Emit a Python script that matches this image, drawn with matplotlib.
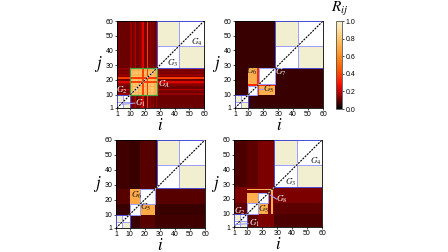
import numpy as np
import matplotlib
matplotlib.use("Agg")
import matplotlib.pyplot as plt
from matplotlib.colors import LinearSegmentedColormap

plt.rcParams['font.family'] = ['Liberation Sans', 'DejaVu Sans']
plt.rcParams['mathtext.fontset'] = 'stix'

N = 60
TICKS = [1, 10, 20, 30, 40, 50, 60]
CB_TICKS = [0.0, 0.2, 0.4, 0.6, 0.8, 1.0]

# group ranges (coordinate boundaries on the 0..60 index axis)
SMALL = [(0, 5), (5, 10)]
UPPER = [(28, 43), (43, 60)]
CREAM = 1.0

# panel 1
P1_BASE = 0.11
P1_GA = (10, 28)
P1_NODE = [0.80, 0.74, 0.82, 0.77, 0.84, 0.72, 0.80, 0.78, 0.40,
           0.82, 0.76, 0.38, 0.80, 0.74, 0.82, 0.78, 0.72, 0.76]
P1_STRIPE = [0.16, 0.11, 0.13, 0.19, 0.11, 0.12, 0.14, 0.17, 0.24,
             0.12, 0.11, 0.38, 0.13, 0.16, 0.12, 0.14, 0.11, 0.15]

# panel 2
P2_BASE = 0.06
P2_A, P2_HUB, P2_B = (10, 16), (16, 17), (17, 28)
P2_AB, P2_HUBV = 0.72, 0.35

# panel 3
P3_BASE = 0.07
P3_A, P3_B, P3_HUB = (10, 17), (17, 27), (27, 28)
P3_AB, P3_HUBV = 0.70, 0.70
P3_TINT_A, P3_TINT_B = 0.06, 0.09

# panel 4
P4_BASE = 0.08
P4_A, P4_B, P4_HUB = (10, 17), (17, 24), (26, 27)
P4_AB, P4_HUBV, P4_HUBRANGE = 0.72, 0.72, (10, 26)
P4_TINT_A, P4_TINT_B = 0.10, 0.13

cmap = LinearSegmentedColormap.from_list("rij", [
    (0.00, (0.0, 0.0, 0.0)),
    (0.10, (0.38, 0.0, 0.0)),
    (0.20, (0.76, 0.0, 0.0)),
    (0.30, (1.0, 0.08, 0.0)),
    (0.45, (1.0, 0.35, 0.0)),
    (0.60, (1.0, 0.55, 0.12)),
    (0.75, (1.0, 0.72, 0.35)),
    (0.90, (1.0, 0.88, 0.62)),
    (1.00, (0.95, 0.94, 0.82)),
])
cmap.set_bad('white')


def setblk(M, r1, r2, v):
    M[r1[0]:r1[1], r2[0]:r2[1]] = v
    M[r2[0]:r2[1], r1[0]:r1[1]] = v


def common(M):
    for grp in (SMALL, UPPER):
        setblk(M, grp[0], grp[1], CREAM)
        for g in grp:
            M[g[0]:g[1], g[0]:g[1]] = np.nan


def panel1():
    M = np.full((N, N), P1_BASE)
    a0, a1 = P1_GA
    node = np.array(P1_NODE)
    st = np.array(P1_STRIPE)
    M[a0:a1, :] = st[:, None]
    M[:, a0:a1] = np.maximum(M[:, a0:a1], st[None, :])
    M[a0:a1, a0:a1] = np.minimum(node[:, None], node[None, :])
    common(M)
    return M


def panel2():
    M = np.full((N, N), P2_BASE)
    common(M)
    setblk(M, P2_A, P2_B, P2_AB)
    setblk(M, P2_HUB, (P2_A[0], P2_B[1]), P2_HUBV)
    for g in (P2_A, P2_B):
        M[g[0]:g[1], g[0]:g[1]] = np.nan
    return M


def panel3():
    M = np.full((N, N), P3_BASE)
    M[:, P3_A[0]:P3_A[1]] = P3_TINT_A
    M[P3_A[0]:P3_A[1], :] = P3_TINT_A
    M[:, P3_B[0]:P3_B[1]] = P3_TINT_B
    M[P3_B[0]:P3_B[1], :] = P3_TINT_B
    common(M)
    setblk(M, P3_A, P3_B, P3_AB)
    M[P3_HUB[0]:P3_HUB[1], P3_HUB[0]:P3_HUB[1]] = P3_HUBV
    for g in (P3_A, P3_B):
        M[g[0]:g[1], g[0]:g[1]] = np.nan
    return M


def panel4():
    M = np.full((N, N), P4_BASE)
    M[:, P4_A[0]:P4_A[1]] = P4_TINT_A
    M[P4_A[0]:P4_A[1], :] = P4_TINT_A
    M[:, P4_B[0]:28] = P4_TINT_B
    M[P4_B[0]:28, :] = P4_TINT_B
    common(M)
    setblk(M, P4_A, P4_B, P4_AB)
    setblk(M, P4_HUB, P4_HUBRANGE, P4_HUBV)
    M[P4_HUB[0]:P4_HUB[1], P4_HUB[0]:P4_HUB[1]] = P4_HUBV
    for g in (P4_A, P4_B):
        M[g[0]:g[1], g[0]:g[1]] = np.nan
    return M


INNER_BLUE = '#9c9cff'
OUTER_BLUE = '#4c4cd8'


def box(ax, r, color, lw=0.7):
    a, b = max(r[0], 1), r[1]
    ax.plot([a, b, b, a, a], [a, a, b, b, a], color=color, lw=lw,
            solid_joinstyle='miter', zorder=4)


def draw(ax, M, mid_groups, labels, leaders, green=None):
    ax.imshow(M, cmap=cmap, vmin=0, vmax=1, origin='lower',
              extent=[0, N, 0, N], interpolation='nearest', aspect='auto')
    for g in SMALL + UPPER + mid_groups:
        box(ax, g, INNER_BLUE)
    box(ax, (1, 10), OUTER_BLUE)
    box(ax, (28, 60), OUTER_BLUE)
    if green:
        box(ax, green, '#3fa43f', lw=0.9)
    ax.plot([1, 60], [1, 60], color='white', lw=0.8, zorder=5)
    ax.plot([1, 60], [1, 60], color='black', lw=0.8, dashes=(1.8, 1.0), zorder=6)
    for (x0, y0, x1, y1, c) in leaders:
        ax.plot([x0, x1], [y0, y1], color=c, lw=0.8, zorder=6)
    for (txt, x, y, c) in labels:
        ax.text(x, y, txt, color=c, fontsize=6.5, ha='center', va='center', zorder=7)
    ax.set_xlim(1, 60)
    ax.set_ylim(1, 60)
    ax.set_xticks(TICKS)
    ax.set_yticks(TICKS)
    ax.tick_params(labelsize=5, length=1.5, width=0.5, pad=1)
    for s in ax.spines.values():
        s.set_linewidth(0.6)
    ax.set_xlabel('$i$', fontsize=12, labelpad=-1)
    ax.set_ylabel('$j$', fontsize=12, labelpad=5, rotation=0, va='center')


fig = plt.figure(figsize=(4.48, 2.52), dpi=100)
W, H = 448, 252


def axes_px(x0, y0, x1, y1):
    return fig.add_axes([x0 / W, 1 - y1 / H, (x1 - x0) / W, (y1 - y0) / H])


DARK = '#1a1a1a'
ax1 = axes_px(117, 21, 204, 108)
draw(ax1, panel1(), [],
     [('$G_1$', 17, 4, 'white'), ('$G_2$', 4, 13, 'white'),
      ('$G_A$', 33, 17, 'white'), ('$G_3$', 38.5, 31, DARK),
      ('$G_4$', 55, 45.5, DARK)],
     [(4.5, 3.5, 13, 4.3, INNER_BLUE)], green=P1_GA)

ax2 = axes_px(235, 21, 323, 108)
draw(ax2, panel2(), [P2_A, P2_B],
     [('$G_6$', 12.5, 25.5, DARK), ('$G_7$', 31.5, 25, 'white'),
      ('$G_5$', 23.3, 13.4, DARK)],
     [(17.3, 13.6, 19.8, 13.6, INNER_BLUE)])

ax3 = axes_px(116, 140, 205, 228)
draw(ax3, panel3(), [P3_A, P3_B],
     [('$G_6$', 15, 23, DARK), ('$G_5$', 20.5, 15, DARK)], [])

ax4 = axes_px(234, 140, 322, 227)
draw(ax4, panel4(), [P4_A, P4_B],
     [('$G_2$', 5, 11.5, 'white'), ('$G_1$', 14.5, 3.2, 'white'),
      ('$G_5$', 21, 13, DARK), ('$G_8$', 33, 19.5, 'white'),
      ('$G_3$', 39, 31.5, DARK), ('$G_4$', 56, 45.3, DARK)],
     [(2, 2.6, 10.5, 3.3, INNER_BLUE), (29.5, 20, 25.5, 22.5, INNER_BLUE)])

cax = axes_px(336, 21, 342, 109)
sm = plt.cm.ScalarMappable(cmap=cmap, norm=plt.Normalize(0, 1))
cb = fig.colorbar(sm, cax=cax, ticks=CB_TICKS)
cb.ax.set_yticklabels([f'{t:.1f}' for t in CB_TICKS])
cb.ax.tick_params(labelsize=5, length=1.5, width=0.5, pad=1)
cb.outline.set_linewidth(0.6)
cb.outline.set_edgecolor('#555555')
fig.text(340 / W, 1 - 9 / H, '$R_{ij}$', fontsize=11, ha='center', va='center')

fig.savefig('out.png', dpi=100)
